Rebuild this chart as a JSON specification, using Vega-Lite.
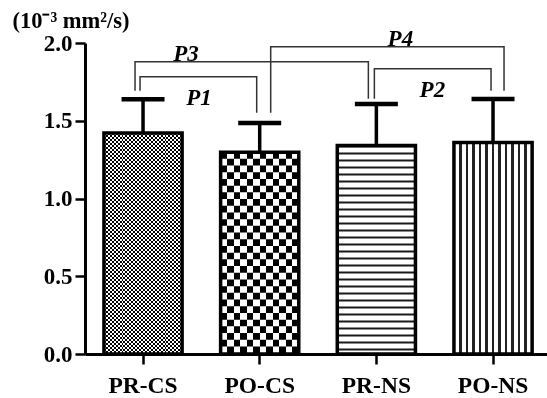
{
  "$schema": "https://vega.github.io/schema/vega-lite/v6.json",
  "width": 462,
  "height": 311,
  "autosize": "none",
  "padding": {"left": 85, "top": 43, "right": 0, "bottom": 44},
  "background": "white",
  "config": {"view": {"stroke": null}, "font": "Liberation Serif"},
  "datasets": {
    "bars": [
      {"group": "PR-CS", "mean": 1.421, "upper": 1.638},
      {"group": "PO-CS", "mean": 1.298, "upper": 1.485},
      {"group": "PR-NS", "mean": 1.341, "upper": 1.608},
      {"group": "PO-NS", "mean": 1.36, "upper": 1.64}
    ],
    "brackets": [
      {"pair": "P1", "group": "PR-CS", "y": 1.693, "step": 1},
      {"pair": "P1", "group": "PR-CS", "y": 1.783, "step": 2},
      {"pair": "P1", "group": "PO-CS", "y": 1.783, "step": 3},
      {"pair": "P1", "group": "PO-CS", "y": 1.551, "step": 4},
      {"pair": "P3", "group": "PR-CS", "y": 1.693, "step": 1},
      {"pair": "P3", "group": "PR-CS", "y": 1.88, "step": 2},
      {"pair": "P3", "group": "PR-NS", "y": 1.88, "step": 3},
      {"pair": "P3", "group": "PR-NS", "y": 1.641, "step": 4},
      {"pair": "P4", "group": "PO-CS", "y": 1.551, "step": 1},
      {"pair": "P4", "group": "PO-CS", "y": 1.976, "step": 2},
      {"pair": "P4", "group": "PO-NS", "y": 1.976, "step": 3},
      {"pair": "P4", "group": "PO-NS", "y": 1.693, "step": 4},
      {"pair": "P2", "group": "PR-NS", "y": 1.641, "step": 1},
      {"pair": "P2", "group": "PR-NS", "y": 1.835, "step": 2},
      {"pair": "P2", "group": "PO-NS", "y": 1.835, "step": 3},
      {"pair": "P2", "group": "PO-NS", "y": 1.693, "step": 4}
    ],
    "labels": [
      {"label": "P1", "group": "PR-CS", "y": 1.603},
      {"label": "P2", "group": "PR-NS", "y": 1.654},
      {"label": "P3", "group": "PR-CS", "y": 1.886},
      {"label": "P4", "group": "PR-NS", "y": 1.983}
    ]
  },
  "encoding": {
    "x": {
      "field": "group",
      "type": "nominal",
      "scale": {"type": "band", "domain": ["PR-CS", "PO-CS", "PR-NS", "PO-NS"], "paddingInner": 0.33, "paddingOuter": 0.145, "align": 0.56},
      "axis": {"title": null, "labelAngle": 0, "domainColor": "black", "domainWidth": 3, "tickColor": "black", "tickWidth": 2.5, "tickSize": 10, "labelFont": "Liberation Serif", "labelFontWeight": "bold", "labelFontSize": 23.5, "labelColor": "black", "labelPadding": 9}
    }
  },
  "layer": [
    {
      "data": {"name": "bars"},
      "transform": [{"filter": "datum.group === 'PR-CS'"}],
      "mark": {"type": "bar", "strokeWidth": 0, "fill": {"gradient": "linear", "x1": 0, "y1": 0, "x2": 1, "y2": 0, "stops": [
        {"offset": 0, "color": "#ffffff"}, {"offset": 0.025, "color": "#ffffff"}, {"offset": 0.025, "color": "#000000"},
        {"offset": 0.05, "color": "#000000"}, {"offset": 0.05, "color": "#ffffff"}, {"offset": 0.075, "color": "#ffffff"}, {"offset": 0.075, "color": "#000000"},
        {"offset": 0.1, "color": "#000000"}, {"offset": 0.1, "color": "#ffffff"}, {"offset": 0.125, "color": "#ffffff"}, {"offset": 0.125, "color": "#000000"},
        {"offset": 0.15, "color": "#000000"}, {"offset": 0.15, "color": "#ffffff"}, {"offset": 0.175, "color": "#ffffff"}, {"offset": 0.175, "color": "#000000"},
        {"offset": 0.2, "color": "#000000"}, {"offset": 0.2, "color": "#ffffff"}, {"offset": 0.225, "color": "#ffffff"}, {"offset": 0.225, "color": "#000000"},
        {"offset": 0.25, "color": "#000000"}, {"offset": 0.25, "color": "#ffffff"}, {"offset": 0.275, "color": "#ffffff"}, {"offset": 0.275, "color": "#000000"},
        {"offset": 0.3, "color": "#000000"}, {"offset": 0.3, "color": "#ffffff"}, {"offset": 0.325, "color": "#ffffff"}, {"offset": 0.325, "color": "#000000"},
        {"offset": 0.35, "color": "#000000"}, {"offset": 0.35, "color": "#ffffff"}, {"offset": 0.375, "color": "#ffffff"}, {"offset": 0.375, "color": "#000000"},
        {"offset": 0.4, "color": "#000000"}, {"offset": 0.4, "color": "#ffffff"}, {"offset": 0.425, "color": "#ffffff"}, {"offset": 0.425, "color": "#000000"},
        {"offset": 0.45, "color": "#000000"}, {"offset": 0.45, "color": "#ffffff"}, {"offset": 0.475, "color": "#ffffff"}, {"offset": 0.475, "color": "#000000"},
        {"offset": 0.5, "color": "#000000"}, {"offset": 0.5, "color": "#ffffff"}, {"offset": 0.525, "color": "#ffffff"}, {"offset": 0.525, "color": "#000000"},
        {"offset": 0.55, "color": "#000000"}, {"offset": 0.55, "color": "#ffffff"}, {"offset": 0.575, "color": "#ffffff"}, {"offset": 0.575, "color": "#000000"},
        {"offset": 0.6, "color": "#000000"}, {"offset": 0.6, "color": "#ffffff"}, {"offset": 0.625, "color": "#ffffff"}, {"offset": 0.625, "color": "#000000"},
        {"offset": 0.65, "color": "#000000"}, {"offset": 0.65, "color": "#ffffff"}, {"offset": 0.675, "color": "#ffffff"}, {"offset": 0.675, "color": "#000000"},
        {"offset": 0.7, "color": "#000000"}, {"offset": 0.7, "color": "#ffffff"}, {"offset": 0.725, "color": "#ffffff"}, {"offset": 0.725, "color": "#000000"},
        {"offset": 0.75, "color": "#000000"}, {"offset": 0.75, "color": "#ffffff"}, {"offset": 0.775, "color": "#ffffff"}, {"offset": 0.775, "color": "#000000"},
        {"offset": 0.8, "color": "#000000"}, {"offset": 0.8, "color": "#ffffff"}, {"offset": 0.825, "color": "#ffffff"}, {"offset": 0.825, "color": "#000000"},
        {"offset": 0.85, "color": "#000000"}, {"offset": 0.85, "color": "#ffffff"}, {"offset": 0.875, "color": "#ffffff"}, {"offset": 0.875, "color": "#000000"},
        {"offset": 0.9, "color": "#000000"}, {"offset": 0.9, "color": "#ffffff"}, {"offset": 0.925, "color": "#ffffff"}, {"offset": 0.925, "color": "#000000"},
        {"offset": 0.95, "color": "#000000"}, {"offset": 0.95, "color": "#ffffff"}, {"offset": 0.975, "color": "#ffffff"}, {"offset": 0.975, "color": "#000000"},
        {"offset": 1, "color": "#000000"}
      ]}},
      "encoding": {
        "y": {
          "field": "mean",
          "type": "quantitative",
          "scale": {"domain": [0, 2], "nice": false, "zero": true},
          "axis": {"values": [0, 0.5, 1, 1.5, 2], "format": ".1f", "grid": false, "domainColor": "black", "domainWidth": 3, "tickColor": "black", "tickWidth": 2.5, "tickSize": 10, "labelFont": "Liberation Serif", "labelFontWeight": "bold", "labelFontSize": 23, "labelColor": "black", "labelPadding": 3, "title": "(10⁻³ mm²/s)", "titleAngle": 0, "titleAlign": "left", "titleBaseline": "alphabetic", "titleX": -73, "titleY": -16, "titleFont": "Liberation Serif", "titleFontSize": 22.5, "titleFontWeight": "bold", "titleColor": "black"}
        }
      }
    },
    {
      "data": {"name": "bars"},
      "transform": [{"filter": "datum.group === 'PR-CS'"}],
      "mark": {"type": "rule", "stroke": "#ffffff", "strokeWidth": 78, "strokeDash": [2, 2], "blend": "difference"},
      "encoding": {"y": {"field": "mean", "type": "quantitative"}, "y2": {"datum": 0}}
    },
    {
      "data": {"name": "bars"},
      "transform": [{"filter": "datum.group === 'PO-CS'"}],
      "mark": {"type": "bar", "strokeWidth": 0, "fill": {"gradient": "linear", "x1": 0, "y1": 0, "x2": 1, "y2": 0, "stops": [
        {"offset": 0, "color": "#ffffff"}, {"offset": 0.08333, "color": "#ffffff"}, {"offset": 0.08333, "color": "#000000"},
        {"offset": 0.16667, "color": "#000000"}, {"offset": 0.16667, "color": "#ffffff"}, {"offset": 0.25, "color": "#ffffff"}, {"offset": 0.25, "color": "#000000"},
        {"offset": 0.33333, "color": "#000000"}, {"offset": 0.33333, "color": "#ffffff"}, {"offset": 0.41667, "color": "#ffffff"}, {"offset": 0.41667, "color": "#000000"},
        {"offset": 0.5, "color": "#000000"}, {"offset": 0.5, "color": "#ffffff"}, {"offset": 0.58333, "color": "#ffffff"}, {"offset": 0.58333, "color": "#000000"},
        {"offset": 0.66667, "color": "#000000"}, {"offset": 0.66667, "color": "#ffffff"}, {"offset": 0.75, "color": "#ffffff"}, {"offset": 0.75, "color": "#000000"},
        {"offset": 0.83333, "color": "#000000"}, {"offset": 0.83333, "color": "#ffffff"}, {"offset": 0.91667, "color": "#ffffff"}, {"offset": 0.91667, "color": "#000000"},
        {"offset": 1, "color": "#000000"}
      ]}},
      "encoding": {"y": {"field": "mean", "type": "quantitative"}}
    },
    {
      "data": {"name": "bars"},
      "transform": [{"filter": "datum.group === 'PO-CS'"}],
      "mark": {"type": "rule", "stroke": "#ffffff", "strokeWidth": 78, "strokeDash": [6.7, 6.7], "blend": "difference"},
      "encoding": {"y": {"field": "mean", "type": "quantitative"}, "y2": {"datum": 0}}
    },
    {
      "data": {"name": "bars"},
      "transform": [{"filter": "datum.group === 'PR-NS'"}],
      "mark": {"type": "bar", "strokeWidth": 0, "fill": "#ffffff"},
      "encoding": {"y": {"field": "mean", "type": "quantitative"}}
    },
    {
      "data": {"name": "bars"},
      "transform": [{"filter": "datum.group === 'PR-NS'"}],
      "mark": {"type": "rule", "stroke": "#1a1a1a", "strokeWidth": 78, "strokeDash": [2, 5]},
      "encoding": {"y": {"field": "mean", "type": "quantitative"}, "y2": {"datum": 0}}
    },
    {
      "data": {"name": "bars"},
      "transform": [{"filter": "datum.group === 'PO-NS'"}],
      "mark": {"type": "bar", "strokeWidth": 0, "fill": {"gradient": "linear", "x1": 0, "y1": 0, "x2": 1, "y2": 0, "stops": [
        {"offset": 0, "color": "#ffffff"},
        {"offset": 0.0663, "color": "#ffffff"}, {"offset": 0.0663, "color": "#222222"}, {"offset": 0.1003, "color": "#222222"}, {"offset": 0.1003, "color": "#ffffff"},
        {"offset": 0.1497, "color": "#ffffff"}, {"offset": 0.1497, "color": "#222222"}, {"offset": 0.1837, "color": "#222222"}, {"offset": 0.1837, "color": "#ffffff"},
        {"offset": 0.233, "color": "#ffffff"}, {"offset": 0.233, "color": "#222222"}, {"offset": 0.267, "color": "#222222"}, {"offset": 0.267, "color": "#ffffff"},
        {"offset": 0.3163, "color": "#ffffff"}, {"offset": 0.3163, "color": "#222222"}, {"offset": 0.3503, "color": "#222222"}, {"offset": 0.3503, "color": "#ffffff"},
        {"offset": 0.3997, "color": "#ffffff"}, {"offset": 0.3997, "color": "#222222"}, {"offset": 0.4337, "color": "#222222"}, {"offset": 0.4337, "color": "#ffffff"},
        {"offset": 0.483, "color": "#ffffff"}, {"offset": 0.483, "color": "#222222"}, {"offset": 0.517, "color": "#222222"}, {"offset": 0.517, "color": "#ffffff"},
        {"offset": 0.5663, "color": "#ffffff"}, {"offset": 0.5663, "color": "#222222"}, {"offset": 0.6003, "color": "#222222"}, {"offset": 0.6003, "color": "#ffffff"},
        {"offset": 0.6497, "color": "#ffffff"}, {"offset": 0.6497, "color": "#222222"}, {"offset": 0.6837, "color": "#222222"}, {"offset": 0.6837, "color": "#ffffff"},
        {"offset": 0.733, "color": "#ffffff"}, {"offset": 0.733, "color": "#222222"}, {"offset": 0.767, "color": "#222222"}, {"offset": 0.767, "color": "#ffffff"},
        {"offset": 0.8163, "color": "#ffffff"}, {"offset": 0.8163, "color": "#222222"}, {"offset": 0.8503, "color": "#222222"}, {"offset": 0.8503, "color": "#ffffff"},
        {"offset": 0.8997, "color": "#ffffff"}, {"offset": 0.8997, "color": "#222222"}, {"offset": 0.9337, "color": "#222222"}, {"offset": 0.9337, "color": "#ffffff"},
        {"offset": 1, "color": "#ffffff"}
      ]}},
      "encoding": {"y": {"field": "mean", "type": "quantitative"}}
    },
    {
      "data": {"name": "bars"},
      "mark": {"type": "bar", "fill": "#ffffff", "fillOpacity": 0, "stroke": "#000000", "strokeWidth": 3.5},
      "encoding": {"y": {"field": "mean", "type": "quantitative"}}
    },
    {
      "data": {"name": "bars"},
      "mark": {"type": "rule", "color": "#000000", "strokeWidth": 3.5},
      "encoding": {"y": {"field": "mean", "type": "quantitative"}, "y2": {"field": "upper"}}
    },
    {
      "data": {"name": "bars"},
      "mark": {"type": "tick", "orient": "horizontal", "color": "#000000", "size": 43, "thickness": 4.5, "opacity": 1},
      "encoding": {"y": {"field": "upper", "type": "quantitative"}}
    },
    {
      "data": {"name": "brackets"},
      "transform": [{"filter": "datum.pair === 'P1'"}],
      "mark": {"type": "line", "color": "#333333", "strokeWidth": 1.5, "xOffset": -3},
      "encoding": {"y": {"field": "y", "type": "quantitative"}, "order": {"field": "step", "type": "quantitative"}}
    },
    {
      "data": {"name": "brackets"},
      "transform": [{"filter": "datum.pair === 'P3'"}],
      "mark": {"type": "line", "color": "#333333", "strokeWidth": 1.5, "xOffset": -8},
      "encoding": {"y": {"field": "y", "type": "quantitative"}, "order": {"field": "step", "type": "quantitative"}}
    },
    {
      "data": {"name": "brackets"},
      "transform": [{"filter": "datum.pair === 'P4'"}],
      "mark": {"type": "line", "color": "#333333", "strokeWidth": 1.5, "xOffset": 11},
      "encoding": {"y": {"field": "y", "type": "quantitative"}, "order": {"field": "step", "type": "quantitative"}}
    },
    {
      "data": {"name": "brackets"},
      "transform": [{"filter": "datum.pair === 'P2'"}],
      "mark": {"type": "line", "color": "#333333", "strokeWidth": 1.5, "xOffset": -2},
      "encoding": {"y": {"field": "y", "type": "quantitative"}, "order": {"field": "step", "type": "quantitative"}}
    },
    {
      "data": {"name": "labels"},
      "transform": [{"filter": "datum.label === 'P1' || datum.label === 'P2'"}],
      "mark": {"type": "text", "font": "Liberation Serif", "fontWeight": "bold", "fontStyle": "italic", "fontSize": 23, "align": "center", "baseline": "alphabetic", "color": "#000000", "xOffset": 56},
      "encoding": {"y": {"field": "y", "type": "quantitative"}, "text": {"field": "label"}}
    },
    {
      "data": {"name": "labels"},
      "transform": [{"filter": "datum.label === 'P3'"}],
      "mark": {"type": "text", "font": "Liberation Serif", "fontWeight": "bold", "fontStyle": "italic", "fontSize": 23, "align": "center", "baseline": "alphabetic", "color": "#000000", "xOffset": 43},
      "encoding": {"y": {"field": "y", "type": "quantitative"}, "text": {"field": "label"}}
    },
    {
      "data": {"name": "labels"},
      "transform": [{"filter": "datum.label === 'P4'"}],
      "mark": {"type": "text", "font": "Liberation Serif", "fontWeight": "bold", "fontStyle": "italic", "fontSize": 23, "align": "center", "baseline": "alphabetic", "color": "#000000", "xOffset": 24},
      "encoding": {"y": {"field": "y", "type": "quantitative"}, "text": {"field": "label"}}
    }
  ]
}
